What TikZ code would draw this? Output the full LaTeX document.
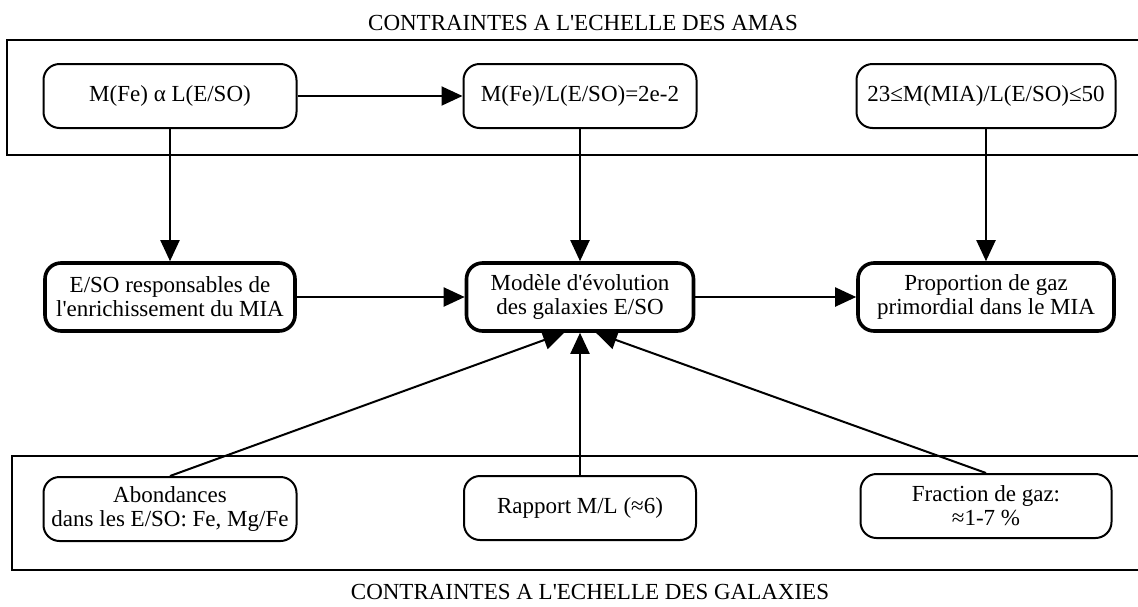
\documentclass[tikz,border=0pt]{standalone}
\usepackage{fontspec}
\newfontfamily\texte{Liberation Serif}
\usetikzlibrary{arrows.meta}

\tikzset{
  boite/.style={draw, rounded corners=16pt, line width=2pt, align=center,
    inner sep=2pt, minimum height=64pt},
  boitegras/.style={boite, line width=3.6pt, minimum height=68pt},
  fleche/.style={line width=2pt, -{Triangle[length=21pt,width=19pt]}},
  cadre/.style={line width=2pt},
}

\begin{document}
\begin{tikzpicture}[x=1pt,y=-1pt,font=\texte\fontsize{23}{24}\selectfont]
	\useasboundingbox (0,0) rectangle (1138,606);
	% cadres
	\draw[cadre] (1138,40)--(7,40)--(7,155)--(1138,155);
	\draw[cadre] (1138,456)--(12,456)--(12,570)--(1138,570);
	\node (titreamas) at (583,23) {CONTRAINTES A L'ECHELLE DES AMAS};
	\node (titregal) at (590,592) {CONTRAINTES A L'ECHELLE DES GALAXIES};
	% echelle des amas
	\node[boite, minimum width=253pt] (fe) at (170,96) {M(Fe) α L(E/SO)};
	\node[boite, minimum width=233pt] (rapfe) at (580,96) {M(Fe)/L(E/SO)=2e-2};
	\node[boite, minimum width=259pt] (mia) at (986,96) {23≤M(MIA)/L(E/SO)≤50};
	% milieu
	\node[boitegras, minimum width=250pt] (resp) at (170,297) {E/SO responsables de\\l'enrichissement du MIA};
	\node[boitegras, minimum width=227pt] (modele) at (580,297) {Modèle d'évolution\\des galaxies E/SO};
	\node[boitegras, minimum width=256pt] (gaz) at (986,297) {Proportion de gaz\\primordial dans le MIA};
	% echelle des galaxies
	\node[boite, minimum width=253pt] (abond) at (170,509) {Abondances\\dans les E/SO: Fe, Mg/Fe};
	\node[boite, minimum width=232pt] (ml) at (580,508) {Rapport M/L (≈6)};
	\node[boite, minimum width=251pt] (frac) at (986,506) {Fraction de gaz:\\≈1-7 \%};
	% fleches
	\draw[fleche] (fe.east)--(rapfe.west);
	\draw[fleche] (fe.south)--(resp.north);
	\draw[fleche] (rapfe.south)--(modele.north);
	\draw[fleche] (mia.south)--(gaz.north);
	\draw[fleche] (resp.east)--(modele.west);
	\draw[fleche] (modele.east)--(gaz.west);
	\draw[fleche] (abond.north)--([xshift=-16pt]modele.south);
	\draw[fleche] (ml.north)--(modele.south);
	\draw[fleche] (frac.north)--([xshift=16pt]modele.south);
\end{tikzpicture}
\end{document}
